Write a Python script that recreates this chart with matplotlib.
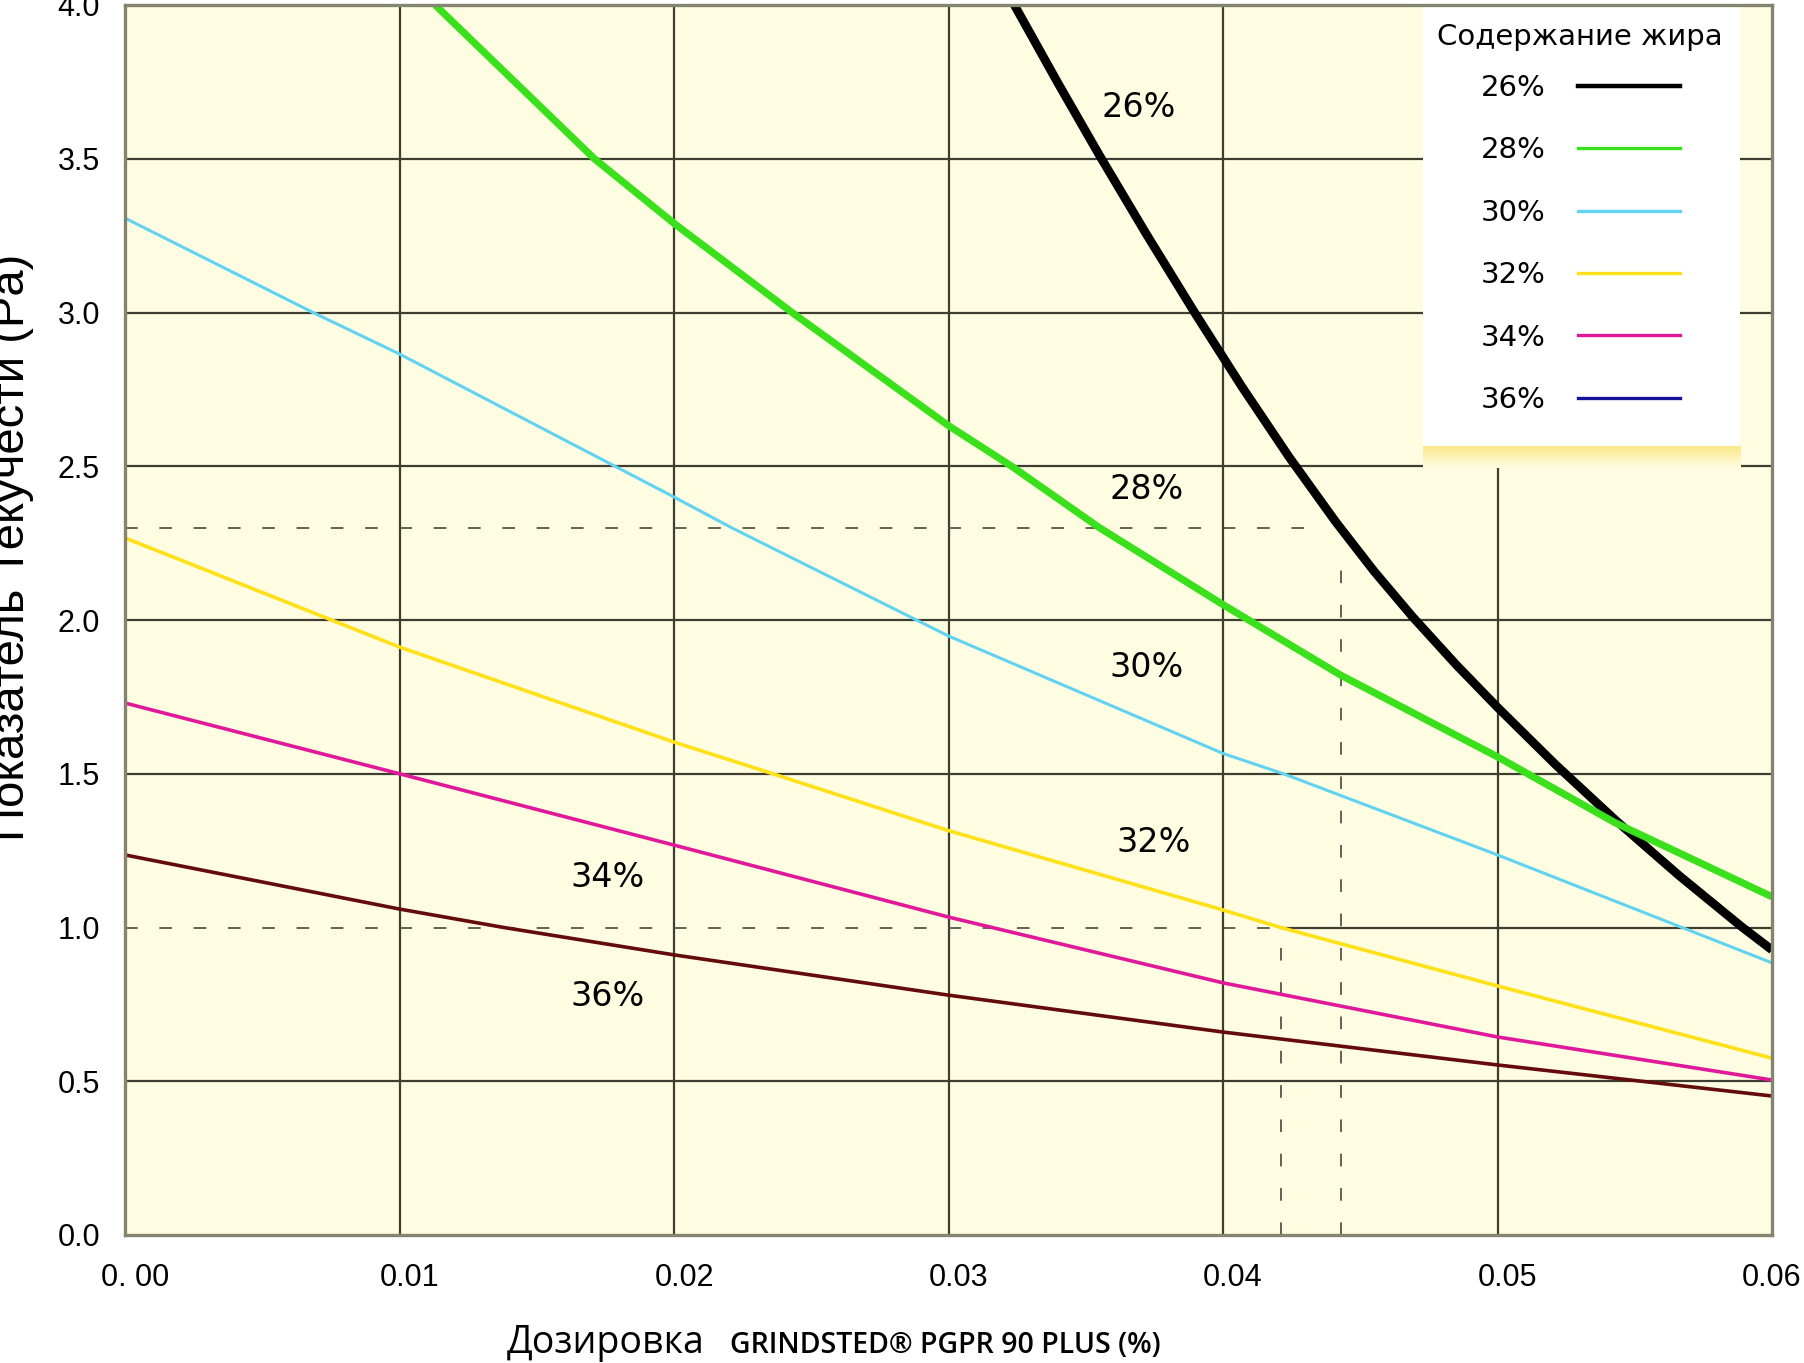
import numpy as np
import matplotlib.pyplot as plt
import matplotlib.transforms as mtransforms
from matplotlib.lines import Line2D
from matplotlib.colors import LinearSegmentedColormap

# Données (dosage %, indice d'écoulement Pa)
x_26 = [0.0324, 0.0340, 0.0355, 0.0372, 0.0390, 0.0407, 0.0424, 0.0441, 0.0455, 0.0469,
        0.0485, 0.0500, 0.0521, 0.0543, 0.0566, 0.0589, 0.0600]
y_26 = [4.00, 3.744, 3.511, 3.256, 2.995, 2.757, 2.531, 2.320, 2.159, 2.011,
        1.854, 1.716, 1.531, 1.349, 1.170, 1.002, 0.927]

x_28 = [0.0113, 0.0171, 0.0200, 0.0243, 0.0300, 0.0323, 0.0355, 0.0400, 0.0443, 0.0500, 0.0543, 0.0600]
y_28 = [4.00, 3.50, 3.29, 3.00, 2.632, 2.50, 2.30, 2.05, 1.82, 1.555, 1.34, 1.10]

x_30 = [0.0, 0.00685, 0.01, 0.02, 0.0221, 0.03, 0.04, 0.0422, 0.05, 0.06]
y_30 = [3.307, 3.00, 2.865, 2.40, 2.30, 1.948, 1.566, 1.50, 1.236, 0.885]

x_32 = [0.0, 0.01, 0.02, 0.0236, 0.03, 0.04, 0.0421, 0.05, 0.06]
y_32 = [2.267, 1.912, 1.603, 1.50, 1.315, 1.057, 1.00, 0.81, 0.575]

x_34 = [0.0, 0.01, 0.02, 0.03, 0.04, 0.05, 0.06]
y_34 = [1.730, 1.50, 1.268, 1.034, 0.82, 0.644, 0.504]

x_36 = [0.0, 0.01, 0.0138, 0.02, 0.03, 0.04, 0.05, 0.06]
y_36 = [1.236, 1.060, 1.00, 0.911, 0.78, 0.66, 0.553, 0.452]

series_labels = ["26%", "28%", "30%", "32%", "34%", "36%"]
curve_colors = ["#000000", "#3be01c", "#62d2f2", "#ffe019", "#e0199b", "#640b0b"]
legend_colors = ["#000000", "#3be01c", "#62d2f2", "#ffe019", "#e0199b", "#14149a"]
curve_widths = [6.3, 5.2, 2.2, 2.6, 2.6, 2.6]

# positions des étiquettes sur les courbes
label_x = [0.03694, 0.03723, 0.03723, 0.03749, 0.01758, 0.01758]
label_y = [3.668, 2.426, 1.844, 1.278, 1.164, 0.777]

x_ticks = [0.0, 0.01, 0.02, 0.03, 0.04, 0.05, 0.06]
x_tick_labels = ["0. 00", "0.01", "0.02", "0.03", "0.04", "0.05", "0.06"]
y_ticks = [0.0, 0.5, 1.0, 1.5, 2.0, 2.5, 3.0, 3.5, 4.0]
y_tick_labels = ["0.0", "0.5", "1.0", "1.5", "2.0", "2.5", "3.0", "3.5", "4.0"]

# lignes de lecture en pointillés
ref_hx = [0.0435, 0.0421]
ref_hy = [2.30, 1.00]
ref_vx = [0.0443, 0.0421]
ref_vy = [2.22, 1.00]

fs_ticks = 22
grid_col = "#3d3d30"

fig = plt.figure(figsize=(18.04, 13.63), dpi=100)
ax = fig.add_axes([125/1804, 1 - 1235/1363, 1647/1804, 1230/1363])
ax.set_facecolor("#fffde1")

# grille (la ligne 1.0 est en pointillés à gauche de 0.0421)
for xv in x_ticks[1:-1]:
    ax.axvline(xv, color=grid_col, lw=1.6, zorder=1)
for yv in y_ticks[1:-1]:
    if yv == 1.0:
        ax.axhline(yv, xmin=ref_hx[1] / 0.06, color=grid_col, lw=1.6, zorder=1)
    else:
        ax.axhline(yv, color=grid_col, lw=1.6, zorder=1)

for hx, hy in zip(ref_hx, ref_hy):
    ax.plot([0, hx], [hy, hy], color="#55554a", lw=1.3, dashes=(7, 12), zorder=1.5)
for vx, vy in zip(ref_vx, ref_vy):
    ax.plot([vx, vx], [0, vy], color="#55554a", lw=1.3, dashes=(7, 12), zorder=1.5)

all_x = [x_26, x_28, x_30, x_32, x_34, x_36]
all_y = [y_26, y_28, y_30, y_32, y_34, y_36]
for xs, ys, c, w in zip(all_x, all_y, curve_colors, curve_widths):
    ax.plot(xs, ys, color=c, lw=w, solid_capstyle="butt", solid_joinstyle="round", zorder=2)

for lab, lx, ly in zip(series_labels, label_x, label_y):
    ax.text(lx, ly, lab, fontsize=24, family="DejaVu Sans", ha="center", va="center", zorder=3)

# cadre de la légende (blanc + bande jaune en bas)
lx0, lx1 = 0.7881, 0.9806
ax.add_patch(plt.Rectangle((lx0, 0.6407), lx1 - lx0, 1.0 - 0.6407, transform=ax.transAxes,
                           facecolor="white", edgecolor="none", zorder=4, clip_on=False))
grad = np.linspace(0, 1, 20).reshape(-1, 1)
cm = LinearSegmentedColormap.from_list("band", ["#fbe98c", "#fffde1"])
ax.imshow(grad, cmap=cm, extent=[lx0, lx1, 0.6236, 0.6407], transform=ax.transAxes,
          aspect="auto", zorder=4, origin="upper")
ax.set_xlim(0, 0.06)
ax.set_ylim(0, 4.0)

leg_cx = 0.8835
ax.text(leg_cx, (1235 - 37) / 1230, "Содержание жира", transform=ax.transAxes, fontsize=21,
        family="DejaVu Sans", ha="center", va="center", zorder=6)
handles = [Line2D([0], [0], color=c, lw=(3.2 if i == 0 else 2.4)) for i, c in enumerate(legend_colors)]
leg = ax.legend(handles, series_labels, loc="upper center",
                bbox_to_anchor=(leg_cx, (1235 - 74) / 1230), frameon=False, markerfirst=False,
                prop={"family": "DejaVu Sans", "size": 21}, handlelength=3.5, handletextpad=1.1,
                labelspacing=1.18, borderaxespad=0, borderpad=0)
leg.set_zorder(5)

# axes
for s in ax.spines.values():
    s.set_color("#85856f")
    s.set_linewidth(2.4)
    s.set_zorder(6)

ax.set_xticks(x_ticks)
ax.set_xticklabels(x_tick_labels, fontsize=fs_ticks, family="Liberation Sans")
ax.set_yticks(y_ticks)
ax.set_yticklabels(y_tick_labels, fontsize=fs_ticks, family="Liberation Sans")
ax.tick_params(axis="x", length=0, pad=20)
ax.tick_params(axis="y", length=0, pad=18)
# les étiquettes x sont légèrement décalées vers la droite (sauf la dernière)
shift = mtransforms.ScaledTranslation(10/100, 0, fig.dpi_scale_trans)
for lab in ax.get_xticklabels()[:-1]:
    lab.set_transform(lab.get_transform() + shift)

fig.text(24/1804, 1 - 547/1363, "Показатель Текучести (Pa)", rotation=90, rotation_mode="anchor",
         ha="center", va="baseline", fontsize=34, family="Liberation Sans")
fig.text(507/1804, 1 - 1353/1363, "Дозировка", fontsize=27, family="Open Sans",
         ha="left", va="baseline")
fig.text(730/1804, 1 - 1353/1363, "GRINDSTED® PGPR 90 PLUS (%)", fontsize=20.5, family="Open Sans",
         weight="semibold", ha="left", va="baseline")

fig.savefig("out.png", dpi=100)
